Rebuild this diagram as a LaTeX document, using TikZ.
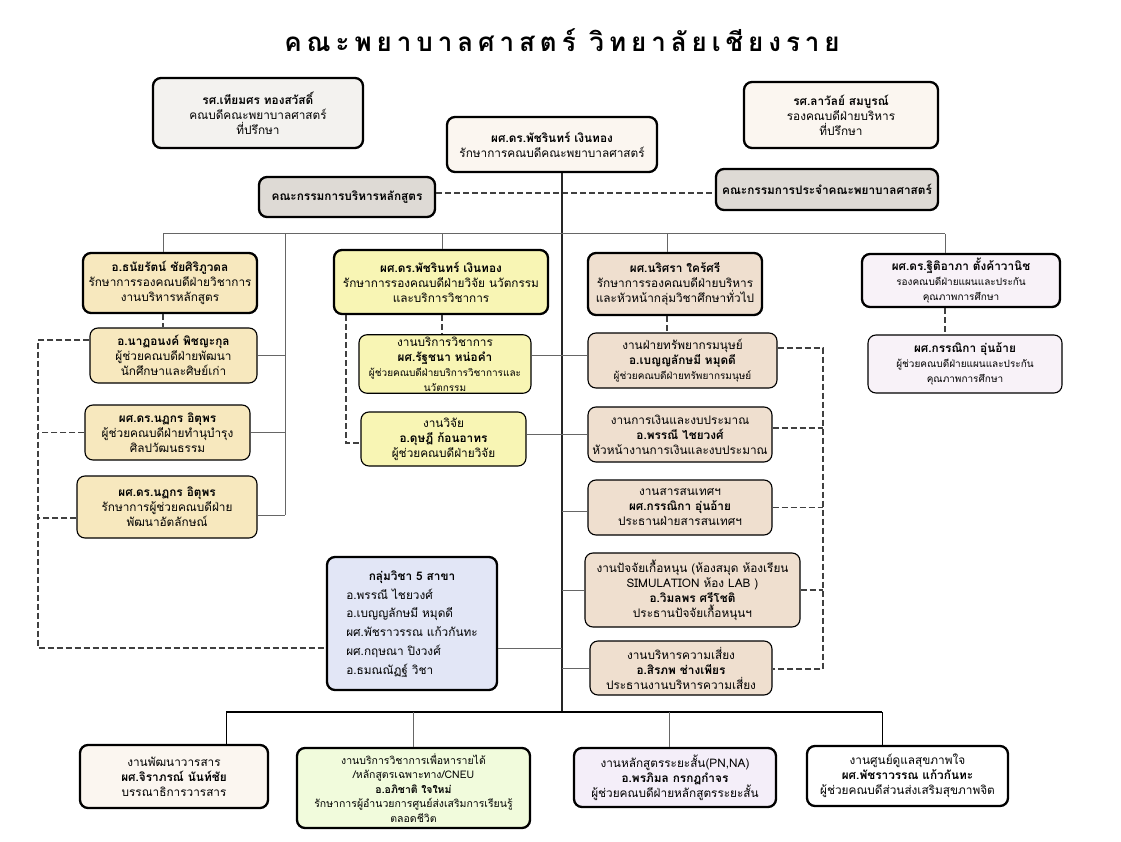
\documentclass[tikz,border=0pt]{standalone}
\usepackage{fontspec}
\setmainfont[Script=Thai]{Loma}
\definecolor{Advisor}{HTML}{F3F2EF}
\definecolor{Cream}{HTML}{FBF6F0}
\definecolor{Committee}{HTML}{DEDAD5}
\definecolor{Gold}{HTML}{F7E8BE}
\definecolor{Lemon}{HTML}{F8F5B4}
\definecolor{Tan}{HTML}{EFDFCF}
\definecolor{Lilac}{HTML}{F8F2F8}
\definecolor{Periwinkle}{HTML}{E2E6F6}
\definecolor{Mint}{HTML}{F1FBDC}
\definecolor{Orchid}{HTML}{F4EEF9}
\newcommand{\smtext}[1]{{\fontsize{10}{13}\selectfont #1}}

\begin{document}
\begin{tikzpicture}[x=1pt,y=-1pt,
  box/.style={rounded corners=8pt,draw=black,line width=2.3pt,align=center,inner sep=2pt,font=\fontsize{11.8}{15}\selectfont},
  sub/.style={box,line width=1.1pt},
  link/.style={draw=black!60,line width=1pt},
  trunk/.style={draw=black!85,line width=1.4pt},
  dashline/.style={draw=black!75,line width=1.1pt,dash pattern=on 6pt off 3pt},
  busline/.style={draw=black,line width=2.4pt}
]
\fill[white] (0,0) rectangle (1121,842);
\useasboundingbox (0,0) rectangle (1121,842);

\node[font=\fontsize{26}{30}\selectfont\bfseries\addfontfeatures{LetterSpace=19}] (title) at (562,40) {คณะพยาบาลศาสตร์ วิทยาลัยเชียงราย};

\node[box,fill=Advisor,minimum width=210pt,minimum height=70pt] (adv1) at (258,113) {\textbf{รศ.เทียมศร ทองสวัสดิ์}\\คณบดีคณะพยาบาลศาสตร์\\ที่ปรึกษา};
\node[box,fill=Cream,minimum width=210pt,minimum height=55pt] (dean) at (552,144.5) {\textbf{ผศ.ดร.พัชรินทร์ เงินทอง}\\รักษาการคณบดีคณะพยาบาลศาสตร์};
\node[box,fill=Cream,minimum width=194pt,minimum height=66pt] (adv2) at (841,115) {\textbf{รศ.ลาวัลย์ สมบูรณ์}\\รองคณบดีฝ่ายบริหาร\\ที่ปรึกษา};
\node[box,fill=Committee,minimum width=176pt,minimum height=40pt] (comA) at (347,197) {\textbf{คณะกรรมการบริหารหลักสูตร}};
\node[box,fill=Committee,minimum width=222pt,minimum height=41pt] (comB) at (827,189.5) {\textbf{คณะกรรมการประจำคณะพยาบาลศาสตร์}};

\node[box,fill=Gold,minimum width=174pt,minimum height=60pt] (vA) at (170,283) {\textbf{อ.ธนัยรัตน์ ชัยศิริภูวดล}\\รักษาการรองคณบดีฝ่ายวิชาการ\\งานบริหารหลักสูตร};
\node[sub,fill=Gold,minimum width=167pt,minimum height=55pt] (lA) at (173.5,355.5) {\textbf{อ.นาฏอนงค์ พิชญะกุล}\\ผู้ช่วยคณบดีฝ่ายพัฒนา\\นักศึกษาและศิษย์เก่า};
\node[sub,fill=Gold,minimum width=165pt,minimum height=55pt] (lB) at (167.5,432.5) {\textbf{ผศ.ดร.นฏกร อิตุพร}\\ผู้ช่วยคณบดีฝ่ายทำนุบำรุง\\ศิลปวัฒนธรรม};
\node[sub,fill=Gold,minimum width=180pt,minimum height=62pt] (lC) at (167,507) {\textbf{ผศ.ดร.นฏกร อิตุพร}\\รักษาการผู้ช่วยคณบดีฝ่าย\\พัฒนาอัตลักษณ์};

\node[box,fill=Lemon,minimum width=214pt,minimum height=64pt] (vB) at (441,282) {\textbf{ผศ.ดร.พัชรินทร์ เงินทอง}\\รักษาการรองคณบดีฝ่ายวิจัย นวัตกรรม\\และบริการวิชาการ};
\node[sub,fill=Lemon,minimum width=172pt,minimum height=58pt] (mA) at (445,364) {งานบริการวิชาการ\\\textbf{ผศ.รัฐชนา หน่อคำ}\\\smtext{ผู้ช่วยคณบดีฝ่ายบริการวิชาการและ}\\\smtext{นวัตกรรม}};
\node[sub,fill=Lemon,minimum width=165pt,minimum height=54pt] (mB) at (443.5,439) {งานวิจัย\\\textbf{อ.ดุษฎี ก้อนอาทร}\\ผู้ช่วยคณบดีฝ่ายวิจัย};

\node[box,fill=Tan,minimum width=174pt,minimum height=62pt] (vC) at (675,284) {\textbf{ผศ.นริศรา ใคร้ศรี}\\รักษาการรองคณบดีฝ่ายบริหาร\\และหัวหน้ากลุ่มวิชาศึกษาทั่วไป};
\node[sub,fill=Tan,minimum width=189pt,minimum height=55pt] (rA) at (682.5,360.5) {งานฝ่ายทรัพยากรมนุษย์\\\textbf{อ.เบญญลักษมี หมุดดี}\\\smtext{ผู้ช่วยคณบดีฝ่ายทรัพยากรมนุษย์}};
\node[sub,fill=Tan,minimum width=184pt,minimum height=55pt] (rB) at (680,434.5) {งานการเงินและงบประมาณ\\\textbf{อ.พรรณี ไชยวงศ์}\\หัวหน้างานการเงินและงบประมาณ};
\node[sub,fill=Tan,minimum width=184pt,minimum height=55pt] (rC) at (680,507.5) {งานสารสนเทศฯ\\\textbf{ผศ.กรรณิกา อุ่นอ้าย}\\ประธานฝ่ายสารสนเทศฯ};
\node[sub,fill=Tan,minimum width=215pt,minimum height=74pt] (rD) at (692.5,590) {งานปัจจัยเกื้อหนุน (ห้องสมุด ห้องเรียน\\SIMULATION ห้อง LAB )\\\textbf{อ.วิมลพร ศรีโชติ}\\ประธานปัจจัยเกื้อหนุนฯ};
\node[sub,fill=Tan,minimum width=182pt,minimum height=54pt] (rE) at (681,668) {งานบริหารความเสี่ยง\\\textbf{อ.สิรภพ ช่างเพียร}\\ประธานงานบริหารความเสี่ยง};

\node[box,fill=Lilac,minimum width=198pt,minimum height=53pt] (vD) at (961,280.5) {\textbf{ผศ.ดร.ฐิติอาภา ตั้งค้าวานิช}\\\smtext{รองคณบดีฝ่ายแผนและประกัน}\\\smtext{คุณภาพการศึกษา}};
\node[sub,fill=Lilac,minimum width=194pt,minimum height=58pt] (pA) at (965,364) {\textbf{ผศ.กรรณิกา อุ่นอ้าย}\\\smtext{ผู้ช่วยคณบดีฝ่ายแผนและประกัน}\\\smtext{คุณภาพการศึกษา}};

\node[box,fill=Periwinkle,minimum width=170pt,minimum height=133pt] (grp) at (412,623.5) {\renewcommand{\arraystretch}{1.25}\begin{tabular}{@{}l@{}}\multicolumn{1}{c}{\textbf{กลุ่มวิชา 5 สาขา}}\\อ.พรรณี ไชยวงศ์\\อ.เบญญลักษมี หมุดดี\\ผศ.พัชราวรรณ แก้วกันทะ\\ผศ.กฤษณา ปิงวงศ์\\อ.ธมณณัฏฐ์ วิชา\end{tabular}};

\node[box,fill=Cream,minimum width=188pt,minimum height=63pt] (bA) at (174,776.5) {งานพัฒนาวารสาร\\\textbf{ผศ.จิราภรณ์ นันท์ชัย}\\บรรณาธิการวารสาร};
\node[box,fill=Mint,minimum width=233pt,minimum height=80pt,font=\fontsize{10.5}{14.5}\selectfont] (bB) at (413.5,788) {งานบริการวิชาการเพื่อหารายได้\\/หลักสูตรเฉพาะทาง/CNEU\\\textbf{อ.อภิชาติ ใจใหม่}\\รักษาการผู้อำนวยการศูนย์ส่งเสริมการเรียนรู้\\ตลอดชีวิต};
\node[box,fill=Orchid,minimum width=202pt,minimum height=59pt] (bC) at (675,777.5) {งานหลักสูตรระยะสั้น(PN,NA)\\\textbf{อ.พรภิมล กรกฎกำจร}\\ผู้ช่วยคณบดีฝ่ายหลักสูตรระยะสั้น};
\node[box,fill=white,minimum width=201pt,minimum height=60pt] (bD) at (907.5,776) {งานศูนย์ดูแลสุขภาพใจ\\\textbf{ผศ.พัชราวรรณ แก้วกันทะ}\\ผู้ช่วยคณบดีส่วนส่งเสริมสุขภาพจิต};

\coordinate (cm) at (562,193);
\coordinate (b1) at (163,234);
\coordinate (b2) at (285,234);
\coordinate (b3) at (442,234);
\coordinate (b4) at (667,234);
\coordinate (b5) at (945,234);
\coordinate (t) at (562,712);
\coordinate (u1) at (226,712);
\coordinate (u3) at (669,712);
\coordinate (u4) at (882,712);
\coordinate (k1) at (562,355);
\coordinate (k2) at (562,434);
\coordinate (k3) at (562,511);
\coordinate (k4) at (562,590);
\coordinate (k5) at (562,668);
\coordinate (k6) at (562,648);
\coordinate (e1) at (38,340);
\coordinate (e3) at (38,518);
\coordinate (e4) at (38,648);
\coordinate (f1) at (346,443);
\coordinate (d1) at (823,348);
\coordinate (d2) at (823,428);
\coordinate (d5) at (823,669);

\draw[dashline] (comA.east |- cm) -- (comB.west |- cm);
\draw[trunk] (dean.south -| t) -- (t);
\draw[link] (b1) -- (b5);
\draw[link] (b1) -- (b1 |- vA.north);
\draw[link] (b3) -- (b3 |- vB.north);
\draw[link] (b4) -- (b4 |- vC.north);
\draw[link] (b5) -- (b5 |- vD.north);
\draw[link] (b2) -- (b2 |- 0,515);
\draw[link] (lA.east) -- (lA.east -| b2);
\draw[link] (lB.east) -- (lB.east -| b2);
\draw[link] (lC.east |- 0,515) -- (b2 |- 0,515);

\draw[dashline] (vA.south -| b1) -- (lA.north -| b1);
\draw[dashline] (lA.west |- e1) -- (e1) -- (e4) -- (grp.west |- e4);
\draw[dashline] (lB.west) -- (lB.west -| e1);
\draw[dashline] (lC.west |- e3) -- (e3);

\draw[dashline] (vB.south -| b3) -- (mA.north -| b3);
\draw[dashline] (vB.south -| f1) -- (f1) -- (mB.west |- f1);
\draw[link] (mA.east |- k1) -- (rA.west |- k1);
\draw[link] (mB.east |- k2) -- (rB.west |- k2);
\draw[link] (k3) -- (rC.west |- k3);
\draw[link] (k4) -- (rD.west |- k4);
\draw[link] (k5) -- (rE.west |- k5);
\draw[link] (grp.east |- k6) -- (k6);

\draw[dashline] (vC.south -| b4) -- (rA.north -| b4);
\draw[dashline] (rA.east |- d1) -- (d1) -- (d5) -- (rE.east |- d5);
\draw[dashline] (rB.east |- d2) -- (d2);
\draw[dashline] (rC.east) -- (rC.east -| d1);
\draw[dashline] (rD.east) -- (rD.east -| d1);

\draw[dashline] (vD.south -| b5) -- (pA.north -| b5);

\draw[busline] (u1) -- (u4);
\draw[link,draw=black] (u1) -- (u1 |- bA.north);
\draw[link] (bB.north |- u1) -- (bB.north);
\draw[link] (u3) -- (u3 |- bC.north);
\draw[link,draw=black] (u4) -- (u4 |- bD.north);
\end{tikzpicture}
\end{document}
